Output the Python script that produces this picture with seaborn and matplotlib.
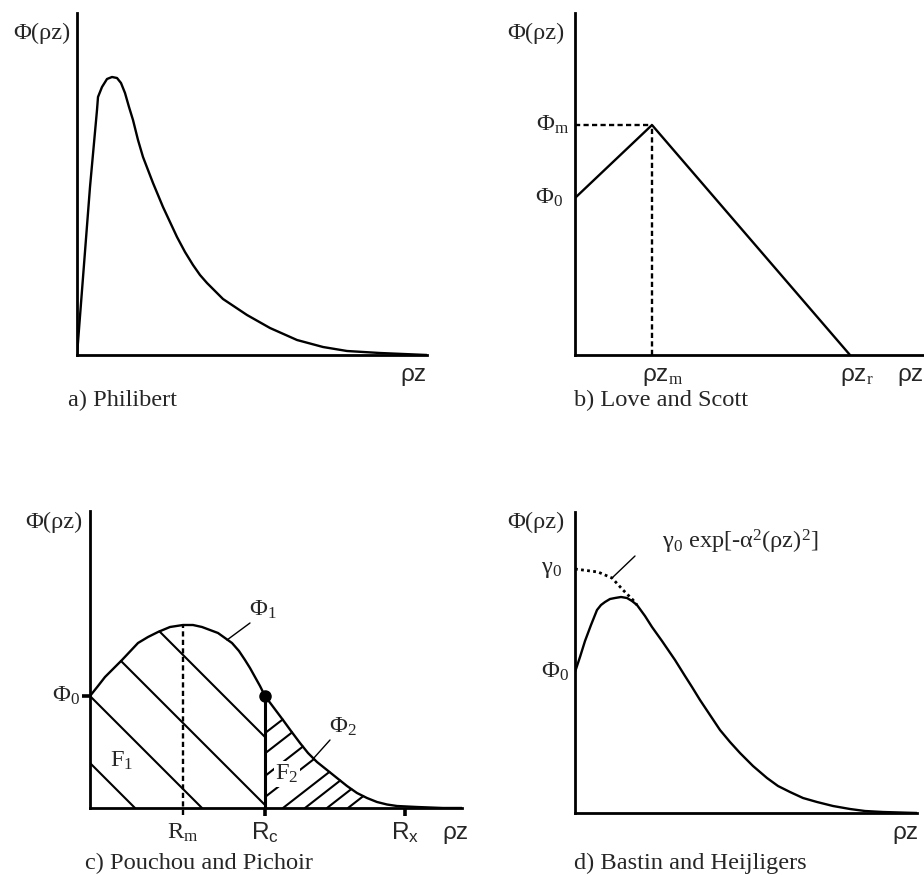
import numpy as np
import matplotlib
matplotlib.use("Agg")
import matplotlib.pyplot as plt
import seaborn as sns

# Phi(rho z) depth distribution models
# (arbitrary units: x = rho z, y = Phi)

# a) Philibert
phil_x = [0, 13, 20, 21, 25, 30, 35, 40, 44, 48, 52, 56, 61, 66, 76, 86, 100, 108, 116,
          123, 130, 146, 170, 193, 220, 246, 270, 303, 350]
phil_y = [0, 168, 245, 258, 268, 276, 278, 277, 272, 262, 248, 235, 215, 198, 172, 148, 118,
          103, 90, 80, 72, 56, 40, 27, 15, 8, 4, 2, 0]

# b) Love and Scott
ls_x = [0, 77, 275]
ls_y = [157, 230, 0]
ls_labels = ["ρz$_\\mathrm{m}$", "ρz$_\\mathrm{r}$"]

# c) Pouchou and Pichoir
pap_x = [0, 8, 15, 32, 48, 58, 68, 80, 93, 103, 112, 120, 128, 135, 142, 149, 155, 160, 165,
         170, 175, 184, 193, 201, 210, 218, 227, 237, 247, 257, 267, 277, 287, 297, 307, 327,
         353, 372]
pap_y = [112, 122, 131, 148, 165, 171, 176, 181, 183, 183, 181, 178, 175, 170, 165, 157, 148,
         140, 131, 122, 112, 100, 88, 77, 65, 55, 46, 38, 30, 22, 15, 10, 6, 3.5, 2, 1,
         0, 0]
pap_marks = {"Rm": 93, "Rc": 175, "Rx": 315}

# d) Bastin and Heijligers
bh_x = [0, 5, 10, 16, 22, 26, 30, 35, 40, 46, 52, 57, 62, 70, 77, 87, 100, 110, 117, 125,
        135, 145, 155, 165, 178, 192, 203, 215, 228, 242, 258, 275, 290, 308, 342]
bh_y = [141, 156, 172, 188, 203, 208, 211, 214, 215, 216, 215, 212, 208, 197, 186, 172, 153,
        137, 126, 113, 98, 83, 71, 60, 47, 35, 27, 21, 15, 11, 7, 4, 2, 1, 0]
gauss_x = [0, 23, 37, 48, 58, 62]
gauss_y = [244, 241, 235, 223, 213, 208]


sns.set_theme(style="white")
plt.rcParams["font.family"] = ["Liberation Serif", "DejaVu Serif"]
plt.rcParams["mathtext.fontset"] = "custom"
plt.rcParams["mathtext.rm"] = "Liberation Serif"
plt.rcParams["mathtext.it"] = "Liberation Serif:italic"
plt.rcParams["mathtext.sf"] = "Liberation Sans"

FS = 17.6
AX_LW = 2.0
LW = 1.7
DASH = (0, (2.2, 1.4))

W, H = 924, 875
fig = plt.figure(figsize=(W / 100, H / 100), dpi=100)


def panel(left, top, right, bottom):
    ax = fig.add_axes([left / W, 1 - bottom / H, (right - left) / W, (bottom - top) / H])
    ax.set_xlim(0, right - left)
    ax.set_ylim(0, bottom - top)
    sns.despine(ax=ax)
    for s in ["left", "bottom"]:
        ax.spines[s].set_linewidth(AX_LW)
        ax.spines[s].set_color("black")
    ax.set_xticks([])
    ax.set_yticks([])
    ax.patch.set_alpha(0)
    return ax


def txt(ax, x, y, s, ha="left", va="center", sans=False, **kw):
    fam = ["Liberation Sans", "DejaVu Sans"] if sans else ["Liberation Serif", "DejaVu Serif"]
    ax.text(x, y, s, ha=ha, va=va, fontsize=FS, family=fam, clip_on=False, **kw)


# ---- a) Philibert
ax = panel(77, 13, 427, 355)
sns.lineplot(x=phil_x, y=phil_y, ax=ax, color="black", lw=LW)
txt(ax, -7, 322, "Φ(ρz)", ha="right")
txt(ax, 350, -20, "ρz", ha="right", sans=True)
txt(ax, -9, -45, "a) Philibert")

# ---- b) Love and Scott
ax = panel(575, 13, 924, 355)
sns.lineplot(x=ls_x, y=ls_y, ax=ax, color="black", lw=LW)
ax.plot([0, ls_x[1]], [ls_y[1], ls_y[1]], color="black", lw=LW, ls=DASH)
ax.plot([ls_x[1], ls_x[1]], [0, ls_y[1]], color="black", lw=LW, ls=DASH)
txt(ax, -10, 322, "Φ(ρz)", ha="right")
txt(ax, -6, ls_y[1], "Φ$_\\mathrm{m}$", ha="right")
txt(ax, -12, ls_y[0], "Φ$_\\mathrm{0}$", ha="right")
txt(ax, ls_x[1] - 10, -22, ls_labels[0], sans=True)
txt(ax, ls_x[2] - 10, -22, ls_labels[1], sans=True)
txt(ax, 322, -20, "ρz", sans=True)
txt(ax, -1, -45, "b) Love and Scott")

# ---- c) Pouchou and Pichoir
ax = panel(90, 511, 462, 808)
sns.lineplot(x=pap_x, y=pap_y, ax=ax, color="black", lw=LW)
Rm, Rc, Rx = pap_marks["Rm"], pap_marks["Rc"], pap_marks["Rx"]
phi0 = pap_y[0]
y_rc = np.interp(Rc, pap_x, pap_y)
y_rm = np.interp(Rm, pap_x, pap_y)
ax.plot([Rm, Rm], [-7, y_rm], color="black", lw=LW, ls=DASH, clip_on=False)
ax.plot([Rc, Rc], [0, y_rc], color="black", lw=2.2)
ax.plot([Rc], [y_rc], "o", color="black", ms=8)
ax.set_xticks([Rc, Rx])
ax.set_yticks([phi0])
ax.set_xticklabels([])
ax.set_yticklabels([])
ax.tick_params(axis="x", bottom=True, length=6, width=2.6, direction="out", color="black")
ax.tick_params(axis="y", left=True, length=6, width=2.6, direction="out", color="black")

# hatching of F1 (\\) and F2 (//)
xs = np.linspace(0, 372, 3000)
ys = np.interp(xs, pap_x, pap_y)
for c in [45, 112, 178, 246]:
    if c <= phi0:
        x0, y0 = 0, c
    else:
        i = np.argmax(ys - (c - xs) >= 0)
        x0, y0 = xs[i], ys[i]
    x1, y1 = (c, 0) if c <= Rc else (Rc, c - Rc)
    ax.plot([x0, x1], [y0, y1], color="black", lw=1.5)
slope = 0.78
for c in [79, 105, 134, 161, 193, 215, 237, 258]:
    x0 = max(c, Rc)
    y0 = slope * (x0 - c)
    m = (xs > x0) & (slope * (xs - c) >= ys)
    i = np.argmax(m)
    ax.plot([x0, xs[i]], [y0, ys[i]], color="black", lw=1.5)

txt(ax, -7, 286, "Φ(ρz)", ha="right")
txt(ax, -10, phi0, "Φ$_\\mathrm{0}$", ha="right")
txt(ax, Rm, -25, "R$_\\mathrm{m}$", ha="center")
txt(ax, Rc, -25, "R$_\\mathsf{c}$", ha="center", sans=True)
txt(ax, Rx, -25, "R$_\\mathsf{x}$", ha="center", sans=True)
txt(ax, 352, -25, "ρz", sans=True)
txt(ax, 173, 198, "Φ$_\\mathrm{1}$", ha="center")
ax.plot([137, 160], [168, 185], color="black", lw=1.0)
txt(ax, 32, 47, "F$_\\mathrm{1}$", ha="center")
txt(ax, 197, 34, "F$_\\mathrm{2}$", ha="center",
    bbox=dict(facecolor="white", edgecolor="none", pad=1))
txt(ax, 253, 81, "Φ$_\\mathrm{2}$", ha="center")
ax.plot([223, 240], [49, 68], color="black", lw=1.0)
txt(ax, -5, -55, "c) Pouchou and Pichoir")

# ---- d) Bastin and Heijligers
ax = panel(575, 512, 917, 813)
sns.lineplot(x=bh_x, y=bh_y, ax=ax, color="black", lw=LW)
ax.plot(gauss_x, gauss_y, color="black", lw=2.0, ls=(0, (1, 1.2)))
ax.plot([37, 60], [235, 257], color="black", lw=1.0)
txt(ax, -10, 291, "Φ(ρz)", ha="right")
txt(ax, -13, gauss_y[0], "γ$_\\mathrm{0}$", ha="right")
txt(ax, -6, bh_y[0], "Φ$_\\mathrm{0}$", ha="right")
txt(ax, 87, 271, "γ$_\\mathrm{0}$ exp[-α$^\\mathrm{2}$(ρz)$^\\mathrm{2}$]")
txt(ax, 344, -20, "ρz", ha="right", sans=True)
txt(ax, -1, -50, "d) Bastin and Heijligers")

fig.savefig("out.png", dpi=100, facecolor="white")
